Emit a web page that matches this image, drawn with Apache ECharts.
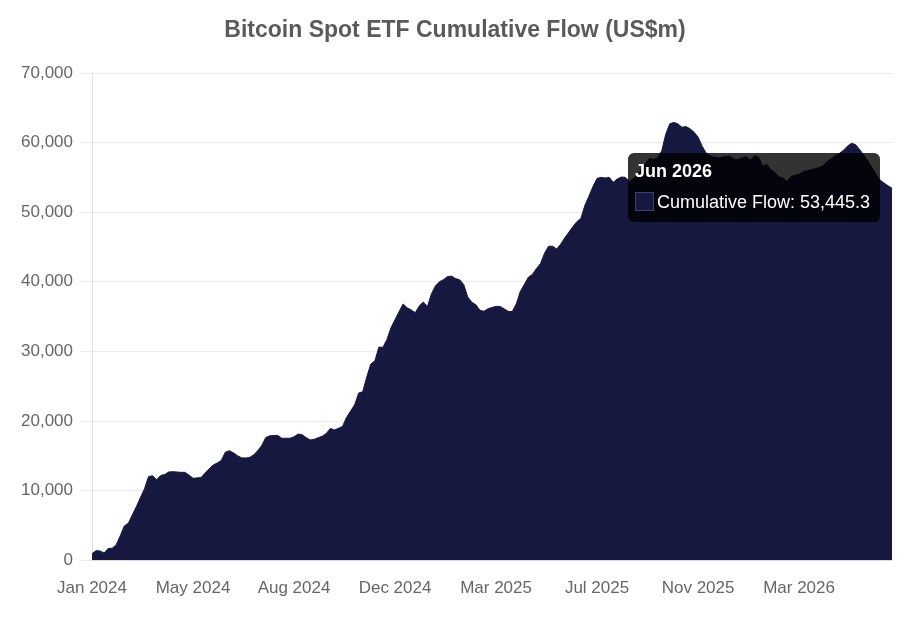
<!DOCTYPE html>
<html>
<head>
<meta charset="utf-8">
<script src="https://cdn.jsdelivr.net/npm/echarts@6/dist/echarts.min.js"></script>
<style>
  html, body { margin: 0; padding: 0; background: #ffffff; }
  #chart { width: 910px; height: 620px; }
</style>
</head>
<body>
<div id="chart"></div>
<script>
// Month labels and how many sampled points fall in each month
const monthLabels = [
  'Jan 2024','Feb 2024','Mar 2024','Apr 2024','May 2024','Jun 2024','Jul 2024',
  'Aug 2024','Sep 2024','Oct 2024','Nov 2024','Dec 2024',
  'Jan 2025','Feb 2025','Mar 2025','Apr 2025','May 2025','Jun 2025',
  'Jul 2025','Aug 2025','Sep 2025','Oct 2025','Nov 2025','Dec 2025',
  'Jan 2026','Feb 2026','Mar 2026','Apr 2026','May 2026','Jun 2026'
];
const monthCounts = [6,6,6,7,8,8,9,6,7,6,6,8,8,9,6,7,6,6,6,7,6,6,6,7,6,6,7,7,7,3];

// Cumulative flow (US$m)
const cumulativeFlow = [
  900, 1340, 1300, 1000, 1650, 1700, 2200, 3500, 4900, 5300,
  6500, 7700, 9000, 10250, 12000, 12100, 11550, 12150, 12300, 12650,
  12700, 12650, 12600, 12600, 12200, 11750, 11800, 11850, 12500, 13100,
  13650, 13950, 14300, 15500, 15710, 15400, 15000, 14700, 14650, 14750,
  15100, 15700, 16450, 17600, 17850, 17900, 17900, 17500, 17500, 17500,
  17700, 18100, 18000, 17600, 17250, 17350, 17580, 17800, 18200, 18900,
  18700, 18930, 19200, 20500, 21400, 22300, 24000, 24190, 26300, 28170,
  28600, 30600, 30570, 31700, 33400, 34550, 35700, 36800, 36250, 35950,
  35550, 36500, 37100, 36410, 38250, 39400, 40000, 40300, 40750, 40800,
  40450, 40270, 39600, 37800, 37050, 36700, 35900, 35750, 36100, 36300,
  36450, 36450, 36100, 35750, 35700, 36800, 38600, 39600, 40650, 41050,
  41900, 42600, 44100, 45100, 45100, 44700, 45400, 46300, 47100, 47900,
  48630, 49100, 51000, 52300, 53700, 54850, 55000, 54900, 55000, 54300,
  54750, 55050, 55000, 54400, 54800, 55300, 56200, 57000, 57700, 57600,
  57800, 58800, 61200, 62700, 62900, 62700, 62200, 62300, 62000, 61500,
  60800, 59500, 58500, 58100, 57900, 57800, 57900, 58000, 58000, 57600,
  57600, 57800, 57950, 57500, 58100, 57900, 56600, 56900, 56100, 55700,
  55100, 54900, 54400, 55100, 55300, 55450, 55800, 55950, 56100, 56250,
  56400, 56700, 57300, 57700, 58100, 58450, 58900, 59500, 59900, 59700,
  59000, 58200, 57400, 56400, 55500, 54650, 54200, 53800, 53445.3
];

const yTicks = [0, 10000, 20000, 30000, 40000, 50000, 60000, 70000];

const categories = [];
monthLabels.forEach((m, i) => { for (let k = 0; k < monthCounts[i]; k++) categories.push(m); });

function fmt(v, dec) {
  const neg = v < 0;
  let s = Math.abs(v).toFixed(dec);
  let [ip, fp] = s.split('.');
  ip = ip.replace(/\B(?=(\d{3})+(?!\d))/g, ',');
  if (fp !== undefined) {
    fp = fp.replace(/0+$/, '');
  }
  return (neg ? '-' : '') + ip + (fp ? '.' + fp : '');
}

const FONT = "'Liberation Sans', Arial, Helvetica, sans-serif";
const NAVY = '#16183f';

const chart = echarts.init(document.getElementById('chart'), null, { renderer: 'canvas' });
chart.setOption({
  animation: false,
  backgroundColor: '#ffffff',
  textStyle: { fontFamily: FONT },
  title: {
    text: 'Bitcoin Spot ETF Cumulative Flow (US$m)',
    left: 'center',
    top: 14,
    textStyle: { fontFamily: FONT, fontSize: 23, fontWeight: 'bold', color: '#5a5a5a' }
  },
  grid: { left: 92, right: 18, top: 73, bottom: 60, containLabel: false },
  tooltip: {
    trigger: 'axis',
    triggerOn: 'none',
    alwaysShowContent: true,
    axisPointer: { type: 'none' },
    backgroundColor: 'rgba(0,0,0,0.8)',
    borderWidth: 0,
    padding: [8, 10, 9, 7],
    extraCssText: 'box-shadow:none;border-radius:6px;',
    position: function () { return [628, 153]; },
    formatter: function (params) {
      const p = params[0];
      return '<div style="font-family:' + FONT.replace(/"/g, '') + ';color:#fff;">' +
        '<div style="font-weight:bold;font-size:18px;line-height:20px;margin-bottom:10px;">' + p.name + '</div>' +
        '<div style="font-size:18px;line-height:22px;white-space:nowrap;">' +
        '<span style="display:inline-block;width:19px;height:19px;background:' + NAVY + ';border:1px solid #3b3f73;box-sizing:border-box;vertical-align:-3px;margin-right:3px;"></span>' +
        p.seriesName + ': ' + fmt(p.value, 1) + '</div></div>';
    }
  },
  xAxis: {
    type: 'category',
    data: categories,
    boundaryGap: false,
    axisLine: { show: true, lineStyle: { color: '#d8d8e8', width: 1 } },
    axisTick: { show: false },
    splitLine: { show: false },
    axisLabel: {
      interval: 24,
      margin: 20,
      color: '#666666',
      fontSize: 17,
      fontFamily: FONT
    }
  },
  yAxis: {
    type: 'value',
    min: yTicks[0],
    max: yTicks[yTicks.length - 1],
    interval: 10000,
    axisLine: { show: true, lineStyle: { color: '#e0e0e0', width: 1 } },
    axisTick: { show: true, length: 12, lineStyle: { color: '#e8e8f7' } },
    splitLine: { show: true, lineStyle: { color: '#e8e8f7', width: 1 } },
    axisLabel: {
      margin: 19,
      color: '#666666',
      fontSize: 17,
      fontFamily: FONT,
      formatter: function (v) { return fmt(v, 0); }
    }
  },
  series: [{
    name: 'Cumulative Flow',
    type: 'line',
    data: cumulativeFlow,
    symbol: 'none',
    showSymbol: false,
    smooth: false,
    lineStyle: { color: NAVY, width: 1 },
    itemStyle: { color: NAVY },
    areaStyle: { color: NAVY, opacity: 1 },
    emphasis: { disabled: true }
  }]
});
chart.dispatchAction({ type: 'showTip', seriesIndex: 0, dataIndex: cumulativeFlow.length - 1 });
</script>
</body>
</html>
